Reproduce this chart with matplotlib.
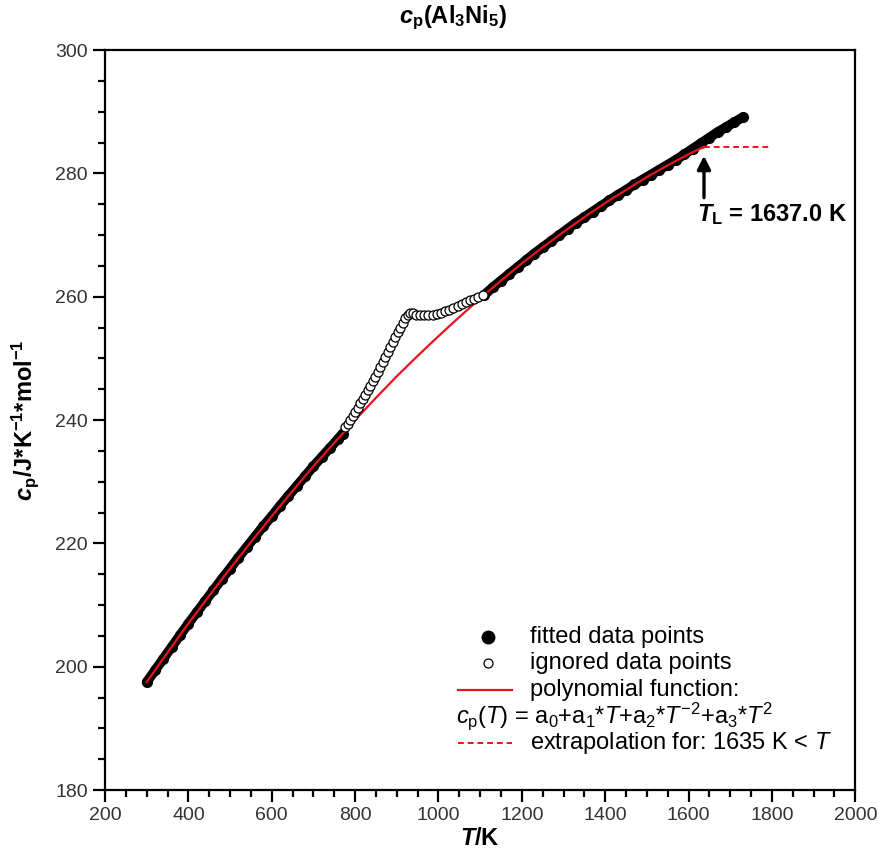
import matplotlib
matplotlib.use("Agg")
import matplotlib.pyplot as plt
from matplotlib.ticker import MultipleLocator

plt.rcParams["font.family"] = "Liberation Sans"
plt.rcParams["mathtext.fontset"] = "custom"
plt.rcParams["mathtext.rm"] = "Liberation Sans"
plt.rcParams["mathtext.it"] = "Liberation Sans:italic"
plt.rcParams["mathtext.bf"] = "Liberation Sans:bold"
plt.rcParams["mathtext.bfit"] = "Liberation Sans:bold:italic"

# ----------------------------
# data
# ----------------------------

# fitted data points, low temperature part
T_fit_low = [300, 320, 340, 360, 380, 400, 420, 440, 460, 480, 500, 520,
             540, 560, 580, 600, 620, 640, 660, 680, 700, 720, 740, 760, 770]
cp_fit_low = [197.5, 199.4, 201.3, 203.2, 205.1, 207.0, 208.8, 210.6, 212.4,
              214.2, 215.9, 217.7, 219.4, 221.1, 222.8, 224.4, 226.1, 227.7,
              229.3, 230.9, 232.5, 234.0, 235.5, 237.0, 237.8]

# fitted data points, high temperature part
T_fit_high = [1110, 1130, 1150, 1170, 1190, 1210, 1230, 1250, 1270, 1290,
              1310, 1330, 1350, 1370, 1390, 1410, 1430, 1450, 1470, 1490,
              1510, 1530, 1550, 1570, 1590, 1610, 1630, 1650, 1670, 1690,
              1710, 1730]
cp_fit_high = [260.3, 261.5, 262.6, 263.7, 264.8, 265.9, 267.0, 268.0, 269.0,
               270.0, 271.0, 272.0, 272.9, 273.8, 274.7, 275.6, 276.5, 277.3,
               278.2, 279.0, 279.8, 280.6, 281.4, 282.2, 283.1, 284.0, 284.9,
               285.8, 286.7, 287.5, 288.3, 289.1]

# ignored data points (transition region)
T_ign = [776, 782, 788, 794, 800, 806, 812, 818, 824, 830, 836, 842, 848, 854,
         860, 866, 872, 878, 884, 890, 896, 902, 908, 914, 920, 926, 932, 938,
         946, 956, 966, 976, 986, 996, 1006, 1016, 1026, 1036, 1046, 1056,
         1066, 1076, 1086, 1096, 1106]
cp_ign = [238.8, 239.4, 240.0, 240.6, 241.3, 242.0, 242.7, 243.4, 244.1, 244.8,
          245.5, 246.3, 247.0, 247.8, 248.6, 249.4, 250.2, 251.0, 251.8, 252.6,
          253.4, 254.2, 255.0, 255.8, 256.5, 257.1, 257.4, 257.4, 257.1, 257.0,
          257.0, 257.0, 257.1, 257.2, 257.4, 257.6, 257.9, 258.2, 258.5, 258.8,
          259.1, 259.4, 259.7, 260.0, 260.2]

# polynomial function
T_poly = [300, 350, 400, 450, 500, 550, 600, 650, 700, 750, 800, 850, 900,
          950, 1000, 1050, 1100, 1150, 1200, 1250, 1300, 1350, 1400, 1450,
          1500, 1550, 1600, 1637]
cp_poly = [197.5, 202.3, 207.0, 211.5, 215.9, 220.2, 224.4, 228.5, 232.5,
           236.3, 240.0, 243.6, 247.1, 250.4, 253.6, 256.7, 259.7, 262.6,
           265.4, 268.0, 270.5, 272.9, 275.2, 277.3, 279.4, 281.3, 283.1, 284.3]

# extrapolation
T_extrap = [1637, 1800]
cp_extrap = [284.3, 284.3]

T_L = 1637.0

# ----------------------------
# figure
# ----------------------------

fig = plt.figure(figsize=(8.9, 8.67), dpi=100)
ax = fig.add_axes([0.118, 0.0888, 0.843, 0.8535])

red = "#e8141c"

# dense measured points form a solid band
for T, cp in [(T_fit_low, cp_fit_low), (T_fit_high, cp_fit_high)]:
    ax.plot(T, cp, "-", color="black", lw=7, solid_capstyle="round", zorder=2)
    ax.plot(T, cp, "o", color="black", ms=7, zorder=2)
ax.plot(T_ign, cp_ign, "o", mfc="white", mec="black", ms=6.5, mew=0.9, zorder=4)
ax.plot(T_poly, cp_poly, "-", color=red, lw=1.6, zorder=3)
ax.plot(T_extrap, cp_extrap, "--", color=red, lw=1.4, dashes=(3, 2), zorder=3)

# liquidus arrow
ax.annotate("", xy=(T_L, 283.3), xytext=(T_L, 275.6),
            arrowprops=dict(arrowstyle="-|>,head_width=0.4,head_length=0.8",
                            color="black", lw=2.4))
ax.text(1621, 273.3, r"$\mathbfit{T}_\mathbf{L}$ = 1637.0 K",
        fontsize=17, fontweight="bold", ha="left", va="center")

ax.set_xlim(200, 2000)
ax.set_ylim(180, 300)
ax.xaxis.set_major_locator(MultipleLocator(200))
ax.xaxis.set_minor_locator(MultipleLocator(50))
ax.yaxis.set_major_locator(MultipleLocator(20))
ax.yaxis.set_minor_locator(MultipleLocator(5))

for s in ax.spines.values():
    s.set_linewidth(1.6)
ax.tick_params(which="major", direction="out", length=8.5, width=1.6,
               labelsize=14, labelcolor="#333333", pad=4)
ax.tick_params(which="minor", direction="out", length=5, width=1.6)

fig.text(0.509, 1 - 18 / 867,
         r"$\mathbfit{c}_\mathbf{p}\mathbf{(Al}_\mathbf{3}\mathbf{Ni}_\mathbf{5}\mathbf{)}$",
         fontsize=17, ha="center", va="center")
ax.set_xlabel(r"$\mathbfit{T}$/K", fontsize=17, fontweight="bold", labelpad=2)
ax.set_ylabel(r"$\mathbfit{c}_\mathbf{p}$/J*K$^\mathbf{-1}$*mol$^\mathbf{-1}$",
              fontsize=17, fontweight="bold", labelpad=10)

# ----------------------------
# legend drawn by hand
# ----------------------------

tr = ax.transAxes
fs = 17
x_txt = 0.567
ax.plot([0.511], [0.2068], "o", color="black", ms=9, transform=tr, clip_on=False)
ax.text(x_txt, 0.2068, "fitted data points", fontsize=fs, va="center", transform=tr)
ax.plot([0.511], [0.1716], "o", mfc="white", mec="black", ms=6.5, mew=0.9,
        transform=tr, clip_on=False)
ax.text(x_txt, 0.1716, "ignored data points", fontsize=fs, va="center", transform=tr)
ax.plot([0.471, 0.543], [0.1351, 0.1351], "-", color=red, lw=1.6, transform=tr)
ax.text(x_txt, 0.1351, "polynomial function:", fontsize=fs, va="center", transform=tr)
ax.text(0.468, 0.100,
        r"$c_\mathrm{p}(T)$ = a$_0$+a$_1$*$T$+a$_2$*$T^{-2}$+a$_3$*$T^2$",
        fontsize=fs, va="center", transform=tr)
ax.plot([0.471, 0.543], [0.0635, 0.0635], "--", color=red, lw=1.4,
        dashes=(3, 2), transform=tr)
ax.text(x_txt, 0.0635, r"extrapolation for: 1635 K < $T$", fontsize=fs,
        va="center", transform=tr)

fig.savefig("out.png", dpi=100)
